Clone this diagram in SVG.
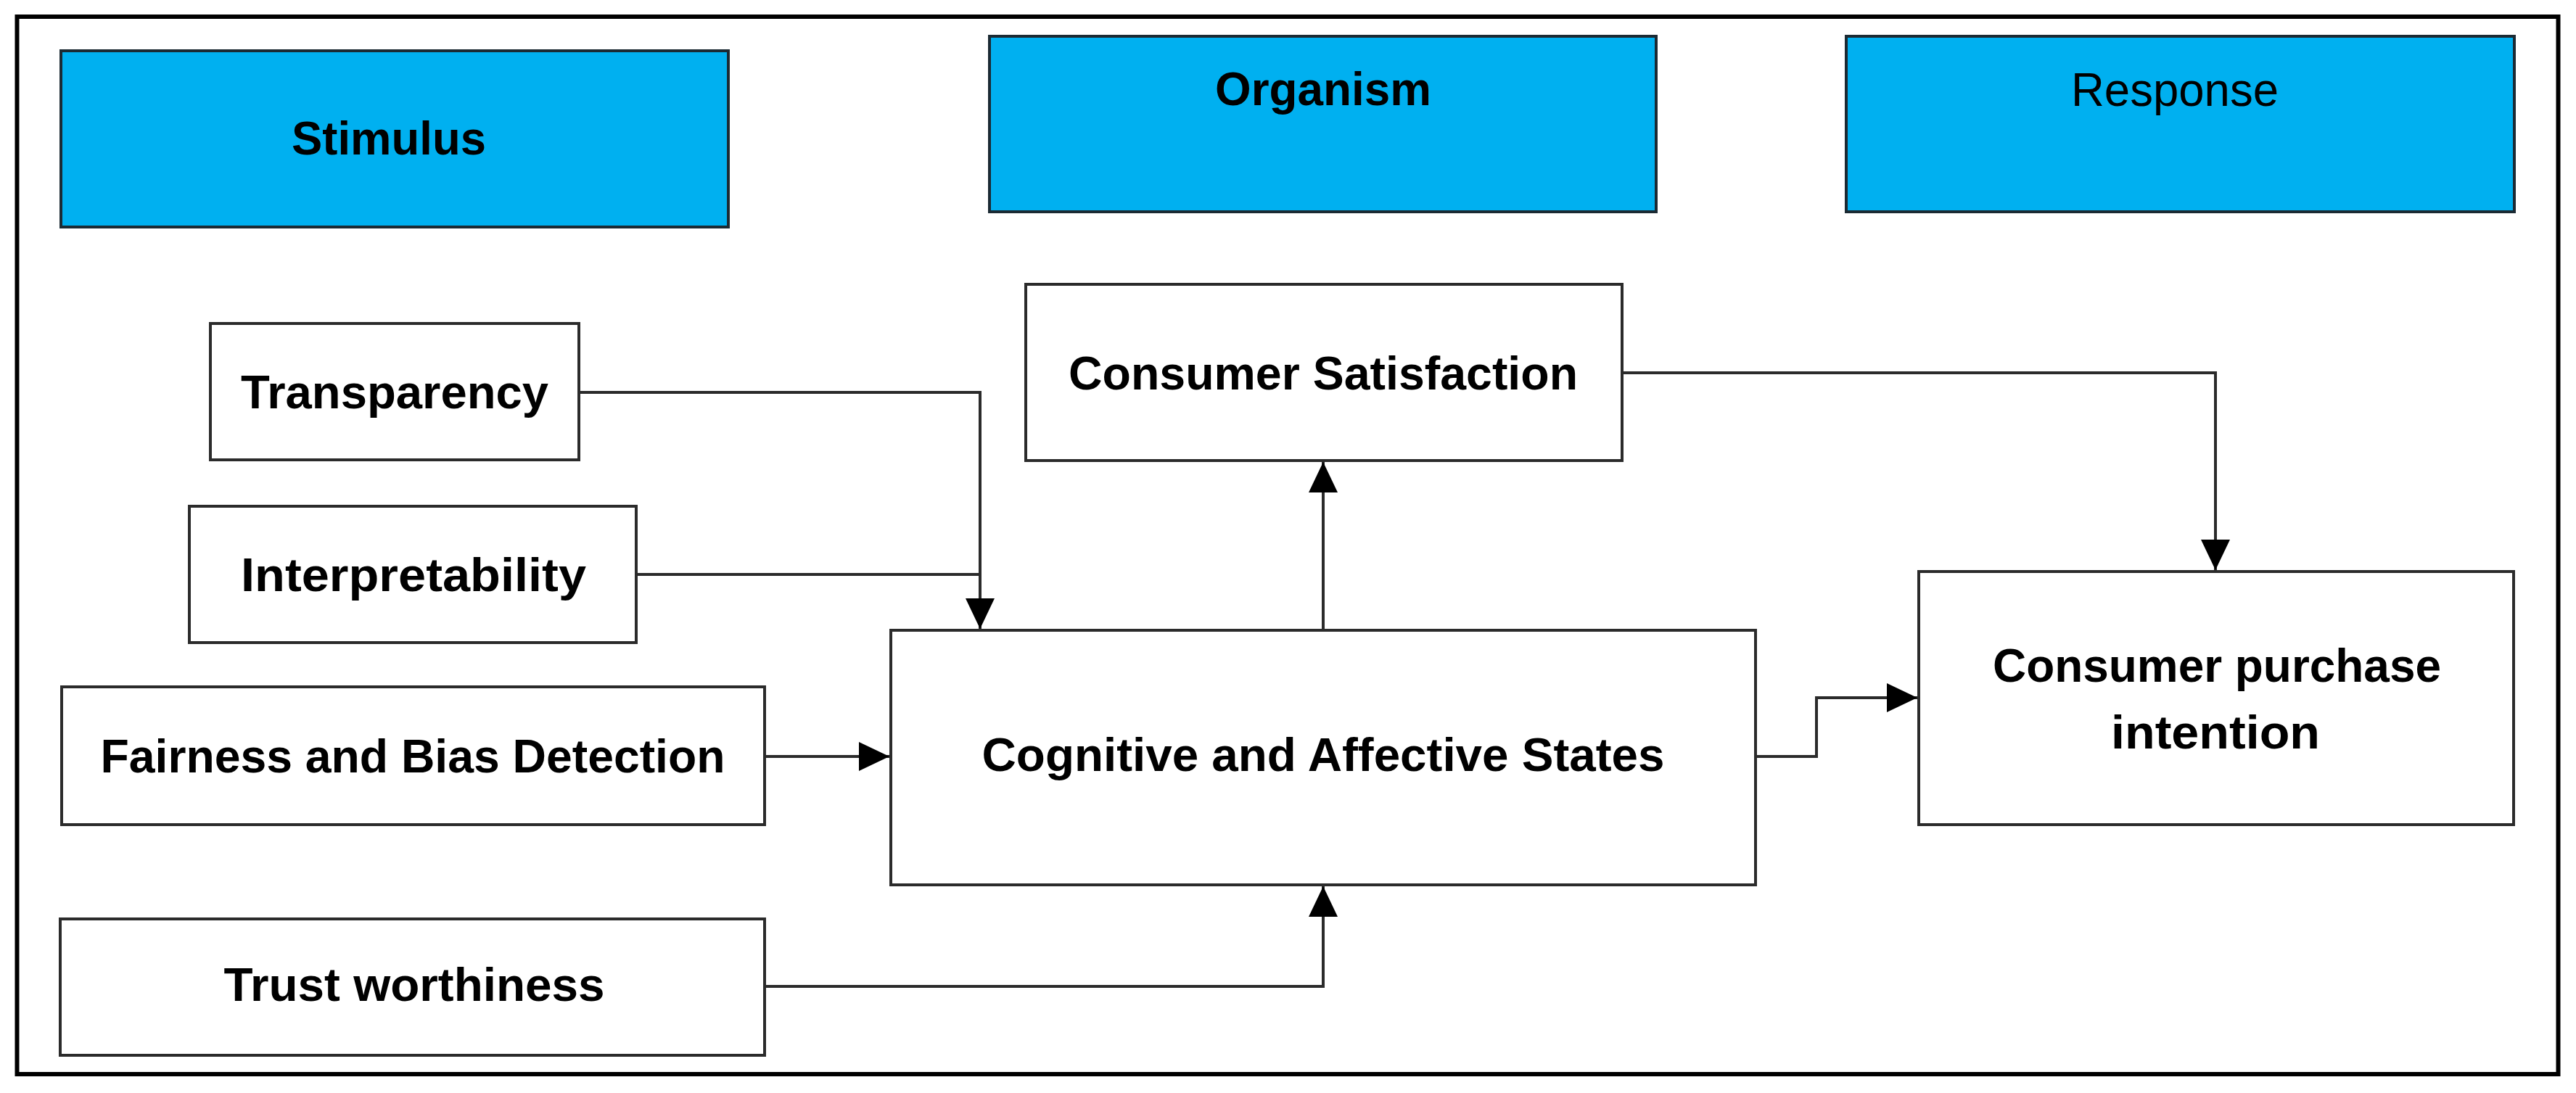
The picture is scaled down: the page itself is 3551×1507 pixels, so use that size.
<svg xmlns="http://www.w3.org/2000/svg" width="3551" height="1507" viewBox="0 0 3551 1507">
<style>
  .frame { fill: #ffffff; stroke: #000000; stroke-width: 6; }
  .head { fill: #00B0F0; stroke: #1b2a33; stroke-width: 4; }
  .box { fill: #ffffff; stroke: #2b2b2b; stroke-width: 4; }
  .lbl { font-family: "Liberation Sans", Arial, sans-serif; font-size: 64px; font-weight: bold; fill: #000000; text-anchor: middle; }
  .reg { font-weight: normal; }
  .conn { fill: none; stroke: #2b2b2b; stroke-width: 4; }
</style>
<defs>
  <marker id="arr" markerUnits="userSpaceOnUse" markerWidth="42" markerHeight="40" refX="42" refY="20" orient="auto">
    <path d="M0,0 L42,20 L0,40 Z" fill="#000000"/>
  </marker>
</defs>
<rect x="0" y="0" width="3551" height="1507" fill="#ffffff"/>
<rect class="frame" x="23.5" y="23" width="3503" height="1458"/>

<g id="stimulus">
  <rect class="head" x="84" y="70" width="920" height="243"/>
  <text class="lbl" x="536" y="213" textLength="268" lengthAdjust="spacingAndGlyphs">Stimulus</text>
</g>
<g id="organism">
  <rect class="head" x="1364" y="50" width="919" height="242"/>
  <text class="lbl" x="1824" y="145" textLength="298" lengthAdjust="spacingAndGlyphs">Organism</text>
</g>
<g id="response">
  <rect class="head" x="2545" y="50" width="921" height="242"/>
  <text class="lbl reg" x="2998" y="146" textLength="286" lengthAdjust="spacingAndGlyphs">Response</text>
</g>

<g id="transparency">
  <rect class="box" x="290" y="446" width="508" height="188"/>
  <text class="lbl" x="544" y="563" textLength="424" lengthAdjust="spacingAndGlyphs">Transparency</text>
</g>
<g id="interpretability">
  <rect class="box" x="261" y="698" width="616" height="188"/>
  <text class="lbl" x="570" y="815" textLength="476" lengthAdjust="spacingAndGlyphs">Interpretability</text>
</g>
<g id="fairness">
  <rect class="box" x="85" y="947" width="969" height="190"/>
  <text class="lbl" x="569" y="1065" textLength="861" lengthAdjust="spacingAndGlyphs">Fairness and Bias Detection</text>
</g>
<g id="trust">
  <rect class="box" x="83" y="1267" width="971" height="188"/>
  <text class="lbl" x="571" y="1380" textLength="525" lengthAdjust="spacingAndGlyphs">Trust worthiness</text>
</g>
<g id="satisfaction">
  <rect class="box" x="1414" y="392" width="822" height="243"/>
  <text class="lbl" x="1824" y="537" textLength="702" lengthAdjust="spacingAndGlyphs">Consumer Satisfaction</text>
</g>
<g id="cognitive">
  <rect class="box" x="1228" y="869" width="1192" height="351"/>
  <text class="lbl" x="1824" y="1063" textLength="941" lengthAdjust="spacingAndGlyphs">Cognitive and Affective States</text>
</g>
<g id="purchase">
  <rect class="box" x="2645" y="788" width="820" height="349"/>
  <text class="lbl" x="3056" y="940" textLength="618" lengthAdjust="spacingAndGlyphs">Consumer purchase</text>
  <text class="lbl" x="3054" y="1032" textLength="288" lengthAdjust="spacingAndGlyphs">intention</text>
</g>

<g id="connectors">
  <path class="conn" d="M798,541 H1351 V867" marker-end="url(#arr)"/>
  <path class="conn" d="M877,792 H1351"/>
  <path class="conn" d="M1054,1043 H1226" marker-end="url(#arr)"/>
  <path class="conn" d="M1054,1360 H1824 V1222" marker-end="url(#arr)"/>
  <path class="conn" d="M1824,869 V637" marker-end="url(#arr)"/>
  <path class="conn" d="M2236,514 H3054 V786" marker-end="url(#arr)"/>
  <path class="conn" d="M2420,1043 H2504 V962 H2643" marker-end="url(#arr)"/>
</g>
</svg>
